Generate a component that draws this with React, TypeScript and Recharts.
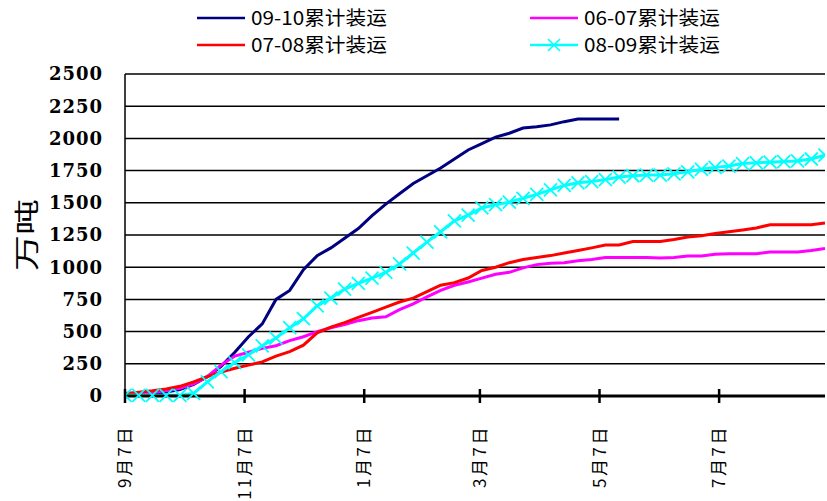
import React from 'react';
import { LineChart, Line, XAxis, YAxis, CartesianGrid } from 'recharts';

const weekDays = [0, 7, 14, 21, 28, 35, 42, 49, 56, 63, 70, 77, 84, 91, 98, 105, 112, 119, 126, 133, 140, 147, 154, 161, 168, 175, 182, 189, 196, 203, 210, 217, 224, 231, 238, 245, 252, 259, 266, 273, 280, 287, 294, 301, 308, 315, 322, 329, 336, 343, 350, 357];

const tickDays = [0, 61, 122, 181, 242, 303];
const tickLabels = ['9月7日', '11月7日', '1月7日', '3月7日', '5月7日', '7月7日'];
const yTicks = [0, 250, 500, 750, 1000, 1250, 1500, 1750, 2000, 2250, 2500];
const yTitle = '万吨';

const s0910 = [10, 15, 20, 30, 50, 90, 150, 230, 340, 460, 560, 750, 820, 980, 1090, 1150, 1225, 1300, 1400, 1490, 1570, 1650, 1710, 1770, 1840, 1910, 1960, 2010, 2040, 2080, 2090, 2105, 2130, 2150, 2150, 2150, 2150];
const s0607 = [15, 20, 30, 40, 60, 95, 150, 240, 310, 340, 370, 390, 430, 460, 500, 530, 555, 585, 605, 615, 670, 715, 770, 820, 860, 885, 915, 945, 960, 995, 1020, 1030, 1035, 1050, 1060, 1075, 1075, 1075, 1075, 1072, 1075, 1087, 1087, 1100, 1105, 1105, 1105, 1118, 1118, 1118, 1130, 1145];
const s0708 = [20, 30, 40, 55, 75, 110, 150, 185, 215, 240, 265, 310, 345, 395, 490, 535, 570, 610, 650, 690, 730, 760, 810, 860, 880, 916, 975, 1000, 1035, 1060, 1075, 1090, 1110, 1130, 1150, 1172, 1172, 1200, 1200, 1200, 1215, 1234, 1245, 1262, 1275, 1289, 1305, 1330, 1330, 1330, 1330, 1343];
const s0809 = [5, 5, 5, 5, 5, 20, 110, 190, 260, 320, 390, 450, 530, 600, 700, 760, 830, 875, 915, 960, 1025, 1110, 1195, 1275, 1360, 1405, 1460, 1485, 1505, 1535, 1565, 1600, 1635, 1655, 1665, 1680, 1700, 1710, 1715, 1715, 1725, 1740, 1760, 1775, 1785, 1805, 1810, 1815, 1820, 1825, 1840, 1870];

const seriesNames = ['09-10累计装运', '06-07累计装运', '07-08累计装运', '08-09累计装运'];

const data = weekDays.map((d, i) => ({
  day: d,
  a: s0910[i],
  b: s0607[i],
  c: s0708[i],
  e: s0809[i],
}));

const CJK = '"Noto Sans CJK SC", "Noto Sans", sans-serif';

const XTick = (props: any) => {
  const { x, y, payload } = props;
  const idx = tickDays.indexOf(payload.value);
  const label = idx >= 0 ? tickLabels[idx] : '';
  return (
    <g>
      <line x1={x} y1={y - 7} x2={x} y2={y + 7} stroke="#000" strokeWidth={2.5} />
      <text
        x={0}
        y={0}
        transform={`translate(${x},${y + 29}) rotate(-90)`}
        textAnchor="end"
        dy="0.36em"
        fontFamily={CJK}
        fontSize={17}
        letterSpacing={2.5}
        fill="#000"
      >
        {label}
      </text>
    </g>
  );
};

const YTick = (props: any) => {
  const { x, y, payload } = props;
  return (
    <text
      x={x}
      y={y}
      dy="0.36em"
      textAnchor="end"
      fontFamily='"DejaVu Serif", serif'
      fontWeight="bold"
      fontSize={18}
      letterSpacing={1}
      fill="#000"
    >
      {payload.value}
    </text>
  );
};

const CrossDot = (props: any) => {
  const { cx, cy, index } = props;
  if (cx == null || cy == null) return <g key={`cd${index}`} />;
  const r = 6.5;
  return (
    <path
      key={`cd${index}`}
      d={`M${cx - r},${cy - r}L${cx + r},${cy + r}M${cx - r},${cy + r}L${cx + r},${cy - r}`}
      stroke="#00FFFF"
      strokeWidth={1.8}
      fill="none"
    />
  );
};

const Overlay = () => {
  const items = [
    { name: seriesNames[0], color: '#000080', x: 197, y: 18, marker: false },
    { name: seriesNames[1], color: '#FF00FF', x: 530, y: 18, marker: false },
    { name: seriesNames[2], color: '#FF0000', x: 197, y: 45, marker: false },
    { name: seriesNames[3], color: '#00FFFF', x: 530, y: 45, marker: true },
  ];
  return (
    <svg width={827} height={501} style={{ position: 'absolute', left: 0, top: 0, pointerEvents: 'none' }}>
      {items.map((it) => (
        <g key={it.name}>
          <line x1={it.x} y1={it.y} x2={it.x + 48} y2={it.y} stroke={it.color} strokeWidth={2.5} />
          {it.marker && (
            <path
              d={`M${it.x + 18},${it.y - 6}L${it.x + 30},${it.y + 6}M${it.x + 18},${it.y + 6}L${it.x + 30},${it.y - 6}`}
              stroke={it.color}
              strokeWidth={1.6}
            />
          )}
          <text
            x={it.x + 54}
            y={it.y}
            dy="0.36em"
            fontFamily={CJK}
            fontSize={19}
            textLength={136}
            lengthAdjust="spacingAndGlyphs"
            fill="#000"
          >
            {it.name}
          </text>
        </g>
      ))}
      <text
        x={0}
        y={0}
        transform="translate(27,235) rotate(-90)"
        textAnchor="middle"
        dy="0.36em"
        fontFamily={CJK}
        fontSize={25}
        textLength={72}
        lengthAdjust="spacingAndGlyphs"
        fill="#000"
      >
        {yTitle}
      </text>
    </svg>
  );
};

export default function App() {
  return (
    <div style={{ position: 'absolute', left: 0, top: 0, width: 827, height: 501, background: '#fff' }}>
      <LineChart width={827} height={501} data={data} margin={{ top: 74, right: 2, bottom: 0, left: 0 }}>
        <CartesianGrid vertical={false} stroke="#000" strokeWidth={1.5} />
        <XAxis
          dataKey="day"
          type="number"
          domain={[0, 357]}
          ticks={tickDays}
          interval={0}
          height={105}
          tickSize={0}
          tickMargin={0}
          tickLine={false}
          axisLine={{ stroke: '#000', strokeWidth: 3 }}
          tick={<XTick />}
          allowDataOverflow
        />
        <YAxis
          type="number"
          domain={[0, 2500]}
          ticks={yTicks}
          interval={0}
          width={125}
          tickSize={0}
          tickMargin={22}
          tickLine={false}
          axisLine={{ stroke: '#000', strokeWidth: 1.5 }}
          tick={<YTick />}
        />
        <Line dataKey="a" name={seriesNames[0]} stroke="#000080" strokeWidth={3} dot={false} isAnimationActive={false} />
        <Line dataKey="b" name={seriesNames[1]} stroke="#FF00FF" strokeWidth={3} dot={false} isAnimationActive={false} />
        <Line dataKey="c" name={seriesNames[2]} stroke="#FF0000" strokeWidth={3} dot={false} isAnimationActive={false} />
        <Line dataKey="e" name={seriesNames[3]} stroke="#00FFFF" strokeWidth={3} dot={<CrossDot />} isAnimationActive={false} />
      </LineChart>
      <Overlay />
    </div>
  );
}
